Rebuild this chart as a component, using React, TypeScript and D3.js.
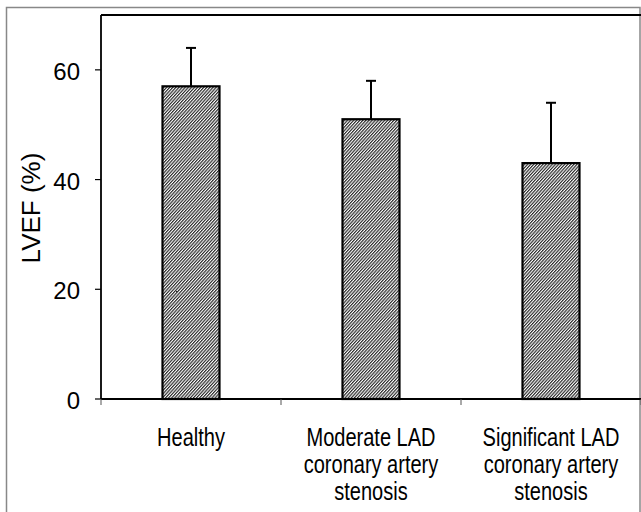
import React from "react";
import * as d3 from "d3";

const categories: string[][] = [
  ["Healthy"],
  ["Moderate LAD", "coronary artery", "stenosis"],
  ["Significant LAD", "coronary artery", "stenosis"],
];
const means = [57, 51, 43];
const sds = [7, 7, 11];
const yTicks = [0, 20, 40, 60];

const W = 641;
const H = 512;
const left = 101;
const right = 641;
const top = 15;
const bottom = 399;

export default function App() {
  const x = d3
    .scaleBand<number>()
    .domain(d3.range(categories.length))
    .range([left, right])
    .paddingInner(0)
    .paddingOuter(0);
  const y = d3.scaleLinear().domain([0, 70]).range([bottom, top]);
  const barW = 57;
  const font = "'Liberation Sans', Arial, sans-serif";
  const bounds = [left, ...categories.map((_, i) => (x(i) as number) + x.bandwidth())];

  return (
    <svg
      width={W}
      height={H}
      style={{ position: "absolute", left: 0, top: 0, background: "#fff" }}
    >
      <defs>
        <pattern
          id="hatch"
          patternUnits="userSpaceOnUse"
          width={2.3}
          height={2.3}
          patternTransform="rotate(42)"
        >
          <rect width={2.3} height={2.3} fill="#fff" />
          <line x1={0.6} y1={0} x2={0.6} y2={2.3} stroke="#222" strokeWidth={1.15} />
        </pattern>
      </defs>
      <rect x={6.5} y={7.5} width={633.5} height={520} fill="none" stroke="#888" strokeWidth={1.5} />
      <line x1={left} x2={W} y1={top} y2={top} stroke="#000" strokeWidth={2} />
      {/* y axis */}
      <line x1={left} x2={left} y1={top} y2={bottom} stroke="#000" strokeWidth={1.8} />
      {yTicks.map((t) => (
        <g key={t}>
          <line x1={left - 6} x2={left} y1={y(t)} y2={y(t)} stroke="#000" strokeWidth={1.2} />
          <text
            x={80}
            y={y(t)}
            dy="0.42em"
            textAnchor="end"
            fontFamily={font}
            fontSize={24}
            fill="#000"
          >
            {t}
          </text>
        </g>
      ))}
      <text
        transform={`translate(40,208) rotate(-90)`}
        textAnchor="middle"
        fontFamily={font}
        fontSize={26}
        fill="#000"
      >
        LVEF (%)
      </text>
      {/* bars */}
      {means.map((m, i) => {
        const cx = (x(i) as number) + x.bandwidth() / 2;
        return (
          <g key={i}>
            <line x1={cx} x2={cx} y1={y(m)} y2={y(m + sds[i])} stroke="#000" strokeWidth={2} />
            <line x1={cx - 5} x2={cx + 5} y1={y(m + sds[i])} y2={y(m + sds[i])} stroke="#000" strokeWidth={2} />
            <rect
              x={cx - barW / 2}
              y={y(m)}
              width={barW}
              height={y(0) - y(m)}
              fill="url(#hatch)"
              stroke="#000"
              strokeWidth={2.2}
            />
          </g>
        );
      })}
      {/* x axis */}
      <line x1={left} x2={W} y1={bottom} y2={bottom} stroke="#000" strokeWidth={2} />
      {bounds.map((b, i) => (
        <line key={i} x1={b} x2={b} y1={bottom} y2={bottom + 6} stroke="#555" strokeWidth={1} />
      ))}
      {categories.map((lines, i) => {
        const cx = (x(i) as number) + x.bandwidth() / 2;
        return (
          <text
            key={i}
            transform={`translate(${cx},0) scale(0.77,1)`}
            textAnchor="middle"
            fontFamily={font}
            fontSize={26}
            fill="#000"
          >
            {lines.map((l, j) => (
              <tspan key={j} x={0} y={446.5 + j * 26.7}>
                {l}
              </tspan>
            ))}
          </text>
        );
      })}
    </svg>
  );
}
